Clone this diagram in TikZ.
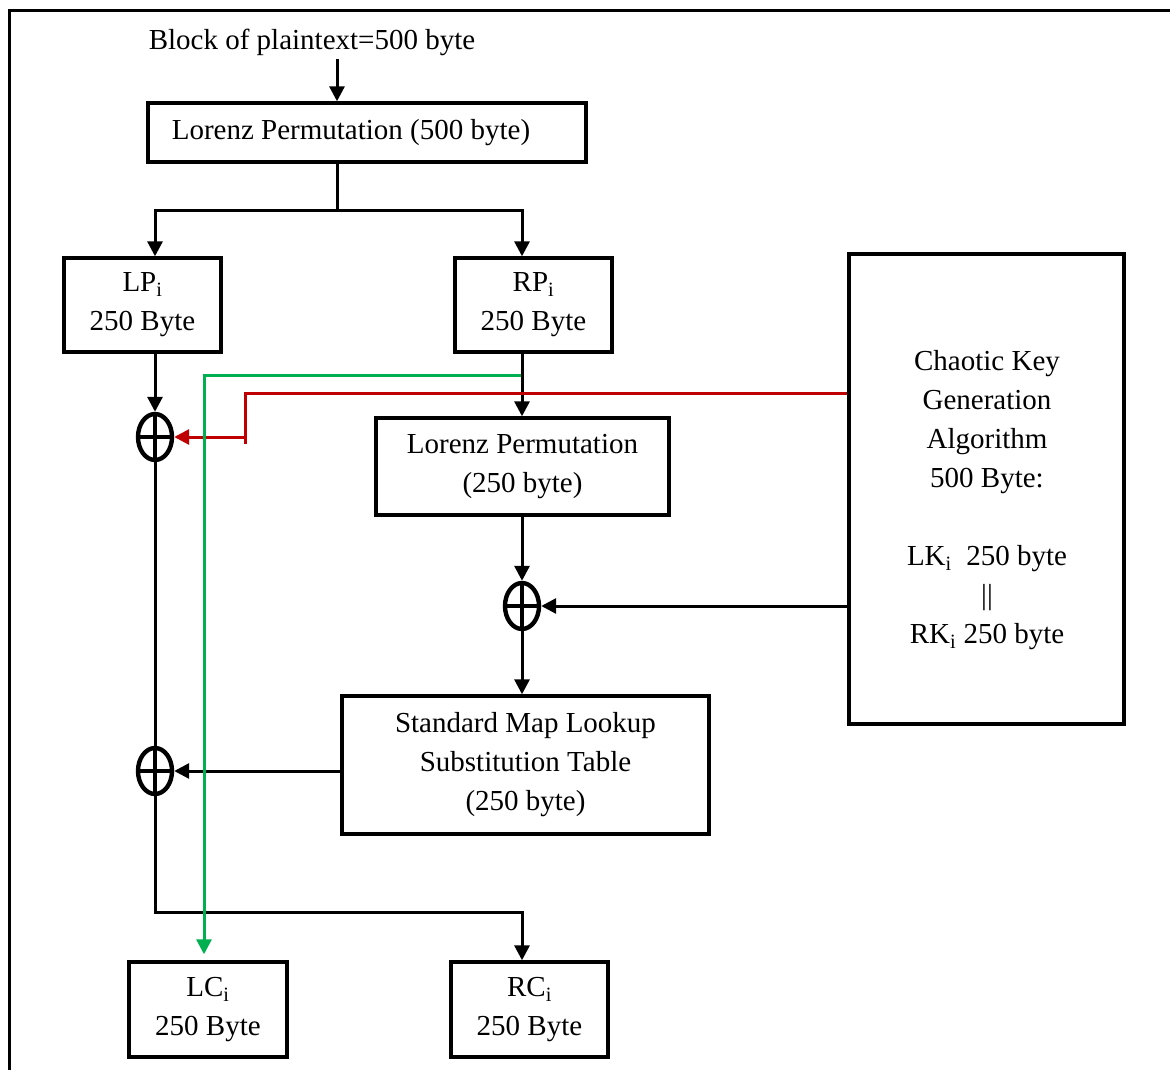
\documentclass[tikz,border=0pt]{standalone}
\usepackage{fontspec}
\setmainfont{Liberation Serif}
\usetikzlibrary{arrows.meta,shapes.geometric}
\definecolor{keyred}{RGB}{192,0,0}
\definecolor{tapgreen}{RGB}{0,176,80}

\begin{document}
\begin{tikzpicture}[x=1pt,y=-1pt]
				\tikzset{
					blockbox/.style={draw, line width=3.4pt, align=center, inner sep=0pt,
						font=\fontsize{29}{39}\selectfont},
					xorop/.style={ellipse, draw, line width=4.4pt, minimum width=34pt,
						minimum height=46pt, inner sep=0pt,
						path picture={
							\draw[line width=3.4pt] (path picture bounding box.north) -- (path picture bounding box.south)
							(path picture bounding box.west) -- (path picture bounding box.east);
					}},
					flow/.style={line width=3pt, -{Triangle[length=15pt,width=15pt]}},
					plainline/.style={line width=3pt},
					keyflow/.style={line width=3pt, color=keyred},
					tapflow/.style={line width=3pt, color=tapgreen}
				}
				\useasboundingbox (0,0) rectangle (1170,1070);
				\draw[line width=3pt] (9,11) rectangle (1190,1090);
				
				%% INPUT AND FIRST PERMUTATION
				\node[font=\fontsize{29}{39}\selectfont] (Plain) at (312,42) {Block of plaintext=500 byte};
				\node[blockbox, minimum width=438pt, minimum height=59pt] (Lorenz500) at (367,132.5) {Lorenz Permutation (500 byte)\hspace*{32pt}};
				\coordinate (Split) at (337,210);
				
				%% HALVES
				\node[blockbox, minimum width=157pt, minimum height=94pt] (LPi) at (142.5,305) {LP\textsubscript{i}\\250 Byte};
				\node[blockbox, minimum width=157pt, minimum height=94pt] (RPi) at (533.5,305) {RP\textsubscript{i}\\250 Byte};
				\node[blockbox, minimum width=275pt, minimum height=470pt] (Chaos) at (986.5,489) {};
				\node[font=\fontsize{29}{39}\selectfont, align=center] (ChaosText) at (987,500) {Chaotic Key\\Generation\\Algorithm\\500 Byte:\\[39pt]LK\textsubscript{i}\ \ 250 byte\\||\\RK\textsubscript{i} 250 byte};
				\node[blockbox, minimum width=293pt, minimum height=97pt] (Lorenz250) at (522.5,466.5) {Lorenz Permutation\\(250 byte)};
				\node[blockbox, minimum width=367pt, minimum height=138pt] (SMap) at (525.5,765) {Standard Map Lookup\\Substitution Table\\(250 byte)};
				
				%% XOR
				\node[xorop] (XorL) at (155,437) {};
				\node[xorop] (XorR) at (522,606) {};
				\node[xorop] (XorS) at (155,771) {};
				
				%% OUTPUT
				\node[blockbox, minimum width=158pt, minimum height=95pt] (LCi) at (208,1009.5) {LC\textsubscript{i}\\250 Byte};
				\node[blockbox, minimum width=157pt, minimum height=95pt] (RCi) at (529.5,1009.5) {RC\textsubscript{i}\\250 Byte};
				
				\coordinate (GreenTap) at (521,375);
				\coordinate (GreenTurn) at (204,375);
				\coordinate (RedTurn) at (245,393);
				\coordinate (RedEnd) at (245,444);
				\coordinate (Merge) at (155,912);
				
				\draw[flow] (Plain.south -| Split) -- (Split |- Lorenz500.north);
				\draw[plainline] (Lorenz500.south -| Split) -- (Split);
				\draw[flow] (Split) -| (LPi.north -| XorL);
				\draw[flow] (Split) -| (RPi.north -| XorR);
				
				\draw[flow] (LPi.south -| XorL) -- (XorL);
				\draw[flow] (RPi.south -| XorR) -- (Lorenz250.north -| XorR);
				\draw[flow] (Lorenz250.south -| XorR) -- (XorR);
				\draw[flow] (Chaos.west |- XorR) -- (XorR);
				\draw[flow] (XorR) -- (SMap.north -| XorR);
				\draw[flow] (SMap.west |- XorS) -- (XorS);
				\draw[plainline] (XorL) -- (XorS);
				\draw[flow] (XorS) -- (Merge) -| (RCi.north -| XorR);
				
				%% KEY AND TAP LINES
				\draw[keyflow] (Chaos.west |- RedTurn) -- (RedTurn) -- (RedEnd);
				\draw[keyflow, -{Triangle[length=15pt,width=15pt]}] (RedEnd |- XorL) -- (XorL);
				\draw[tapflow, -{Triangle[length=15pt,width=15pt]}, shorten >=6pt] (GreenTap) -- (GreenTurn) -- (GreenTurn |- LCi.north);
				
			\end{tikzpicture}
\end{document}
